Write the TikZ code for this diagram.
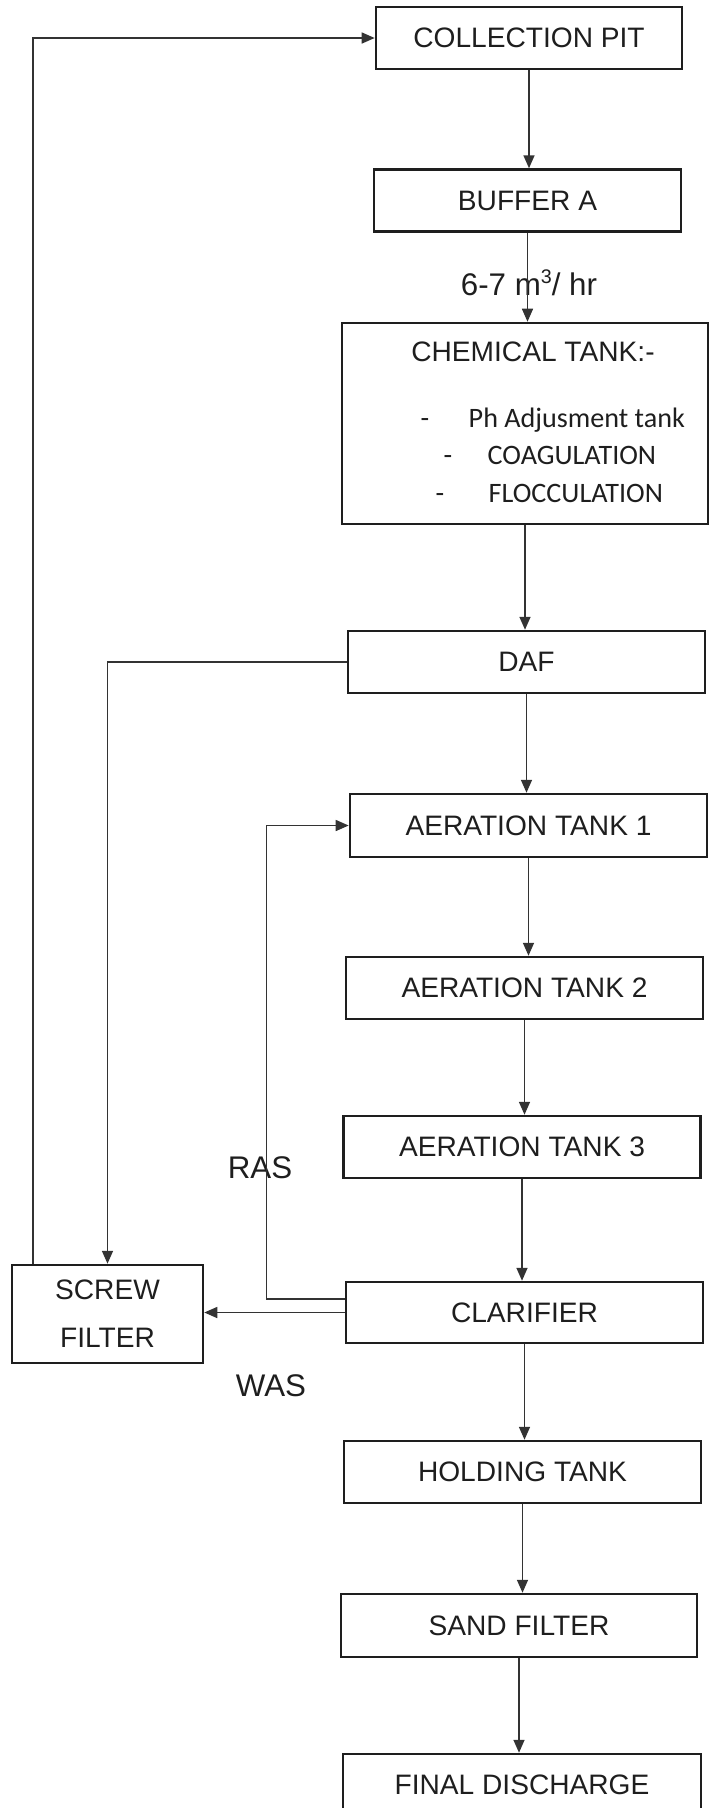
\documentclass[tikz,border=0pt]{standalone}
\usepackage{fontspec}
\setmainfont{Liberation Sans}
\newfontfamily\calibrifont{Carlito}
\usetikzlibrary{arrows.meta,calc}
\definecolor{ink}{HTML}{1E1E1E}
\definecolor{pipe}{HTML}{333333}
\newcommand{\tankfont}{\fontsize{8}{9.6}\selectfont}
\newcommand{\lblfont}{\fontsize{8.9}{10.7}\selectfont}
\newcommand{\listfont}{\calibrifont\fontsize{8}{9.6}\selectfont}
\newcommand{\cubed}{\raisebox{0.75ex}{\fontsize{5.6}{6}\selectfont 3}}
\tikzset{
  tankbox/.style = {rectangle, draw=ink, line width=0.7pt, minimum width=35.7mm,
                    minimum height=6.2mm, inner sep=0pt, font=\tankfont, text=ink},
  flow/.style    = {-{Triangle[length=1.3mm, width=1.1mm]}, line width=0.45pt, draw=pipe},
  lbl/.style     = {font=\lblfont, text=ink, inner sep=0pt},
  item/.style    = {font=\listfont, text=ink, inner sep=0pt, text height=1.6mm, text depth=0.5mm}
}
\begin{document}
\begin{tikzpicture}[x=0.01cm, y=-0.01cm]
    \useasboundingbox (0,0) rectangle (709,1808);
    % main line
    \node[tankbox, minimum width=30.6mm] (pit) at (529,38) {COLLECTION PIT};
    \node[tankbox, minimum width=30.7mm] (bufa) at (527.5,200.5) {BUFFER A};
    \node[tankbox, minimum width=36.6mm, minimum height=20.1mm] (chem) at (525,423.5) {};
    \node[lbl, font=\tankfont] (chemtitle) at (533,352) {CHEMICAL TANK:-};
    \node[item] (dash1) at (425,422) {-};
    \node[item, anchor=west] (ph) at (468,422) {Ph Adjusment tank};
    \node[item] (dash2) at (448,459) {-};
    \node[item, anchor=west] (coag) at (487,459) {COAGULATION};
    \node[item] (dash3) at (440,497) {-};
    \node[item, anchor=west] (floc) at (488,497) {FLOCCULATION};
    \node[tankbox] (daf) at (526.5,662) {DAF};
    \node[tankbox, minimum height=6.3mm] (aer1) at (528.5,825.5) {AERATION TANK 1};
    \node[tankbox] (aer2) at (524.5,988) {AERATION TANK 2};
    \node[tankbox] (aer3) at (522,1147) {AERATION TANK 3};
    \node[tankbox, minimum height=6.1mm] (clar) at (524.5,1312.5) {CLARIFIER};
    \node[tankbox] (hold) at (522.5,1472) {HOLDING TANK};
    \node[tankbox, minimum width=35.6mm, minimum height=6.3mm] (sand) at (519,1625.5) {SAND FILTER};
    \node[tankbox, minimum width=35.8mm] (final) at (522,1785) {FINAL DISCHARGE};
    % side branch
    \node[tankbox, minimum width=19.1mm, minimum height=9.8mm, align=center,
          font=\fontsize{8}{13.7}\selectfont] (screw) at (107.5,1314) {SCREW\\FILTER};
    \node[lbl] (rate) at (529,283) {6-7 m\cubed/ hr};
    \node[lbl] (ras) at (260,1168) {RAS};
    \node[lbl] (was) at (271,1386) {WAS};
    \draw[flow] (pit) -- (pit |- bufa.north);
    \draw[flow] (bufa) -- (bufa |- chem.north);
    \draw[flow] (chem) -- (chem |- daf.north);
    \draw[flow] (daf) -- (daf |- aer1.north);
    \draw[flow] (aer1) -- (aer1 |- aer2.north);
    \draw[flow] (aer2) -- (aer2 |- aer3.north);
    \draw[flow] (aer3) -- (aer3 |- clar.north);
    \draw[flow] (clar) -- (clar |- hold.north);
    \draw[flow] (hold) -- (hold |- sand.north);
    \draw[flow] (sand) -- (sand |- final.north);
    \draw[flow] (daf.west) -| (screw.north);
    \draw[flow] ($(clar.west)+(0,-13.5)$) -- ++(-78,0) |- (aer1.west);
    \draw[flow] (clar.west) -- (clar.west -| screw.east);
    \draw[flow] ($(screw.north west)+(22,0)$) |- (pit.west);
  \end{tikzpicture}
\end{document}
